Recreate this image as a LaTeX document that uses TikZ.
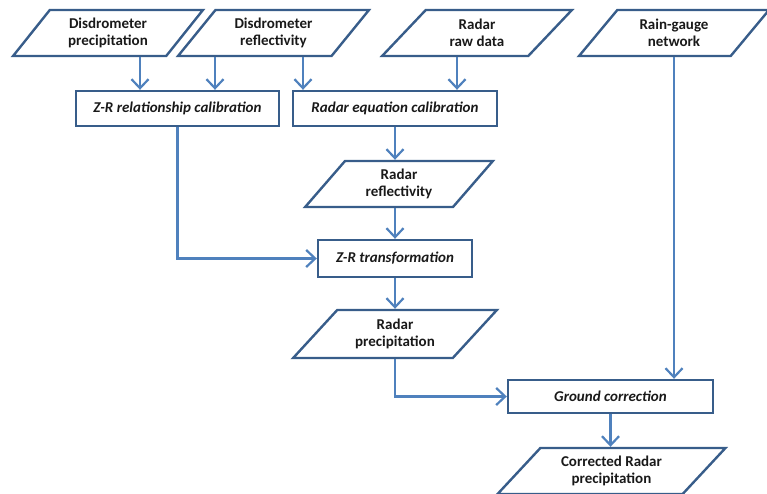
\documentclass[tikz,border=0pt]{standalone}
\usepackage{fontspec}
\setmainfont{Carlito}
\usetikzlibrary{shapes.geometric,arrows.meta}
\definecolor{edgeblue}{RGB}{56,93,138}
\definecolor{connblue}{RGB}{79,129,189}
\begin{document}
\begin{tikzpicture}[x=1pt,y=-1pt,
  every node/.style={font=\fontsize{15}{17.5}\selectfont\bfseries, text=black!90},
  io/.style 2 args={trapezium, trapezium stretches=true,
    trapezium left angle=#1, trapezium right angle=#2,
    draw=edgeblue, line width=2.4pt, inner sep=0pt, align=center},
  proc/.style={rectangle, draw=edgeblue, line width=2.4pt, inner sep=0pt,
    font=\fontsize{15}{17.5}\selectfont\bfseries\itshape},
  conn/.style={draw=connblue, line width=2.2pt,
    -{Straight Barb[length=9pt,width=17pt]}}]
\useasboundingbox (0,0) rectangle (767,493);
\clip (0,0) rectangle (767,493);
% inputs
\node[io={50.4}{129.6}, minimum width=190, minimum height=46] (dp) at (108,33) {Disdrometer\\precipitation};
\node[io={50.4}{129.6}, minimum width=191, minimum height=46] (dr) at (273.5,33) {Disdrometer\\reflectivity};
\node[io={50.4}{129.6}, minimum width=190, minimum height=46] (rr) at (477,33) {Radar\\raw data};
\node[io={50.4}{129.6}, minimum width=190, minimum height=46] (rg) at (674,33) {Rain-gauge\\network};
% processes
\node[proc, minimum width=203, minimum height=35] (zr) at (177.5,108.5) {Z-R relationship calibration};
\node[proc, minimum width=204, minimum height=35] (re) at (395,108.5) {Radar equation calibration};
\node[io={51}{129}, minimum width=188, minimum height=46] (rf) at (399,184) {Radar\\reflectivity};
\node[proc, minimum width=154, minimum height=37] (zt) at (395,258.5) {Z-R transformation};
\node[io={45}{135}, minimum width=204, minimum height=48] (rp) at (395,334) {Radar\\precipitation};
\node[proc, minimum width=205, minimum height=33] (gc) at (610.5,396.5) {Ground correction};
\node[io={45}{135}, minimum width=228, minimum height=46] (cr) at (611.5,471) {Corrected Radar\\precipitation};
% connectors
\draw[conn] (dp.south -| 140,0) -- (zr.north -| 140,0);
\draw[conn] (dr.south -| 215,0) -- (zr.north -| 215,0);
\draw[conn] (dr.south -| 303,0) -- (re.north -| 303,0);
\draw[conn] (rr.south -| 457,0) -- (re.north -| 457,0);
\draw[conn] (re.south) -- (re.south |- rf.north);
\draw[conn] (rf.south -| zt.north) -- (zt.north);
\draw[conn] (zr.south) |- (zt.west);
\draw[conn] (zt.south) -- (zt.south |- rp.north);
\draw[conn] (rp.south) |- (gc.west);
\draw[conn] (rg.south) -- (rg.south |- gc.north);
\draw[conn] (gc.south) -- (gc.south |- cr.north);
\end{tikzpicture}
\end{document}
